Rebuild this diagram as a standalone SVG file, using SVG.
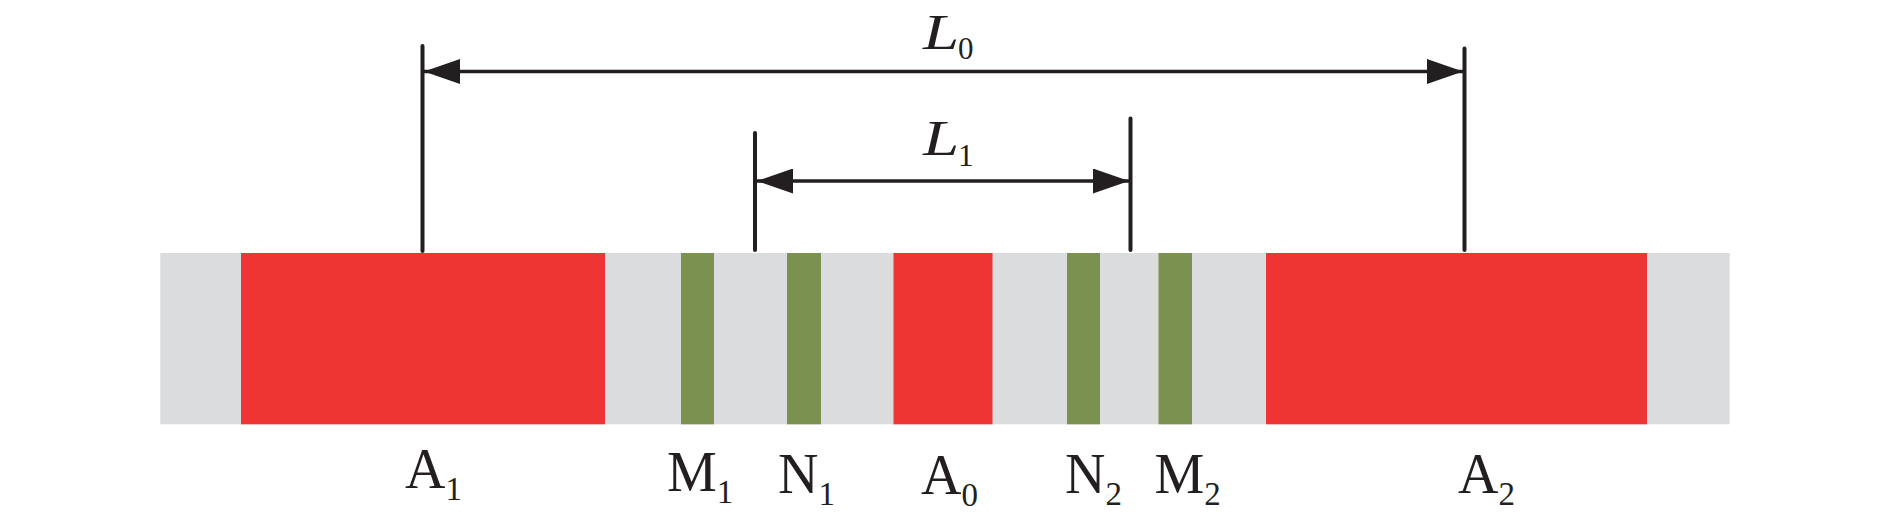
<svg xmlns="http://www.w3.org/2000/svg" width="1890" height="524" viewBox="0 0 1890 524">
<style>
.gray{fill:#dbdcde}
.red{fill:#ee3533}
.green{fill:#7b9150}
.tick{stroke:#231f20;stroke-width:4;stroke-linecap:round;fill:none}
.dim{stroke:#231f20;stroke-width:3.6;fill:none}
.lbl{font-family:"Liberation Serif","Times New Roman",serif;font-size:56px;fill:#231f20}
.sub{font-size:33px}
.ital{font-family:"Liberation Serif","Times New Roman",serif;font-style:italic;font-size:50px;fill:#231f20}
.isub{font-family:"Liberation Serif","Times New Roman",serif;font-size:31px;fill:#231f20}
</style>
<defs>
<marker id="ah" markerUnits="userSpaceOnUse" markerWidth="36" markerHeight="25" refX="36" refY="12.5" orient="auto-start-reverse">
<path d="M0,0 L36,12.5 L0,25 Z" fill="#231f20"/>
</marker>
</defs>
<g id="bar">
<rect class="gray" x="160.3" y="253" width="1569.4" height="171.3"/>
</g>
<g id="A1"><rect class="red" x="241" y="253" width="364" height="171.3"/></g>
<g id="M1"><rect class="green" x="681" y="253" width="33" height="171.3"/></g>
<g id="N1"><rect class="green" x="787" y="253" width="34" height="171.3"/></g>
<g id="A0"><rect class="red" x="893.5" y="253" width="99" height="171.3"/></g>
<g id="N2"><rect class="green" x="1067" y="253" width="33" height="171.3"/></g>
<g id="M2"><rect class="green" x="1158.5" y="253" width="33.5" height="171.3"/></g>
<g id="A2"><rect class="red" x="1266" y="253" width="381" height="171.3"/></g>
<g id="connectors">
<line class="tick" x1="422.5" y1="46" x2="422.5" y2="251"/>
<line class="tick" x1="1464.5" y1="48.5" x2="1464.5" y2="250"/>
<line class="tick" x1="755" y1="133" x2="755" y2="250"/>
<line class="tick" x1="1130.5" y1="118.5" x2="1130.5" y2="250"/>
<line class="dim" x1="424" y1="71.5" x2="1463" y2="71.5" marker-start="url(#ah)" marker-end="url(#ah)"/>
<line class="dim" x1="757" y1="181" x2="1129" y2="181" marker-start="url(#ah)" marker-end="url(#ah)"/>
</g>
<g id="labels">
<text class="ital" transform="translate(923,49) scale(1.3,1)">L</text><text class="isub" x="958" y="59">0</text>
<text class="ital" transform="translate(923,155) scale(1.3,1)">L</text><text class="isub" x="958" y="166">1</text>
<text class="lbl" x="405" y="488">A<tspan class="sub" dy="12">1</tspan></text>
<text class="lbl" x="667" y="491">M<tspan class="sub" dy="12">1</tspan></text>
<text class="lbl" x="778" y="493">N<tspan class="sub" dy="12">1</tspan></text>
<text class="lbl" x="921" y="494">A<tspan class="sub" dy="12">0</tspan></text>
<text class="lbl" x="1065" y="493">N<tspan class="sub" dy="12">2</tspan></text>
<text class="lbl" x="1154.5" y="493">M<tspan class="sub" dy="12">2</tspan></text>
<text class="lbl" x="1458" y="493">A<tspan class="sub" dy="12">2</tspan></text>
</g>
</svg>
